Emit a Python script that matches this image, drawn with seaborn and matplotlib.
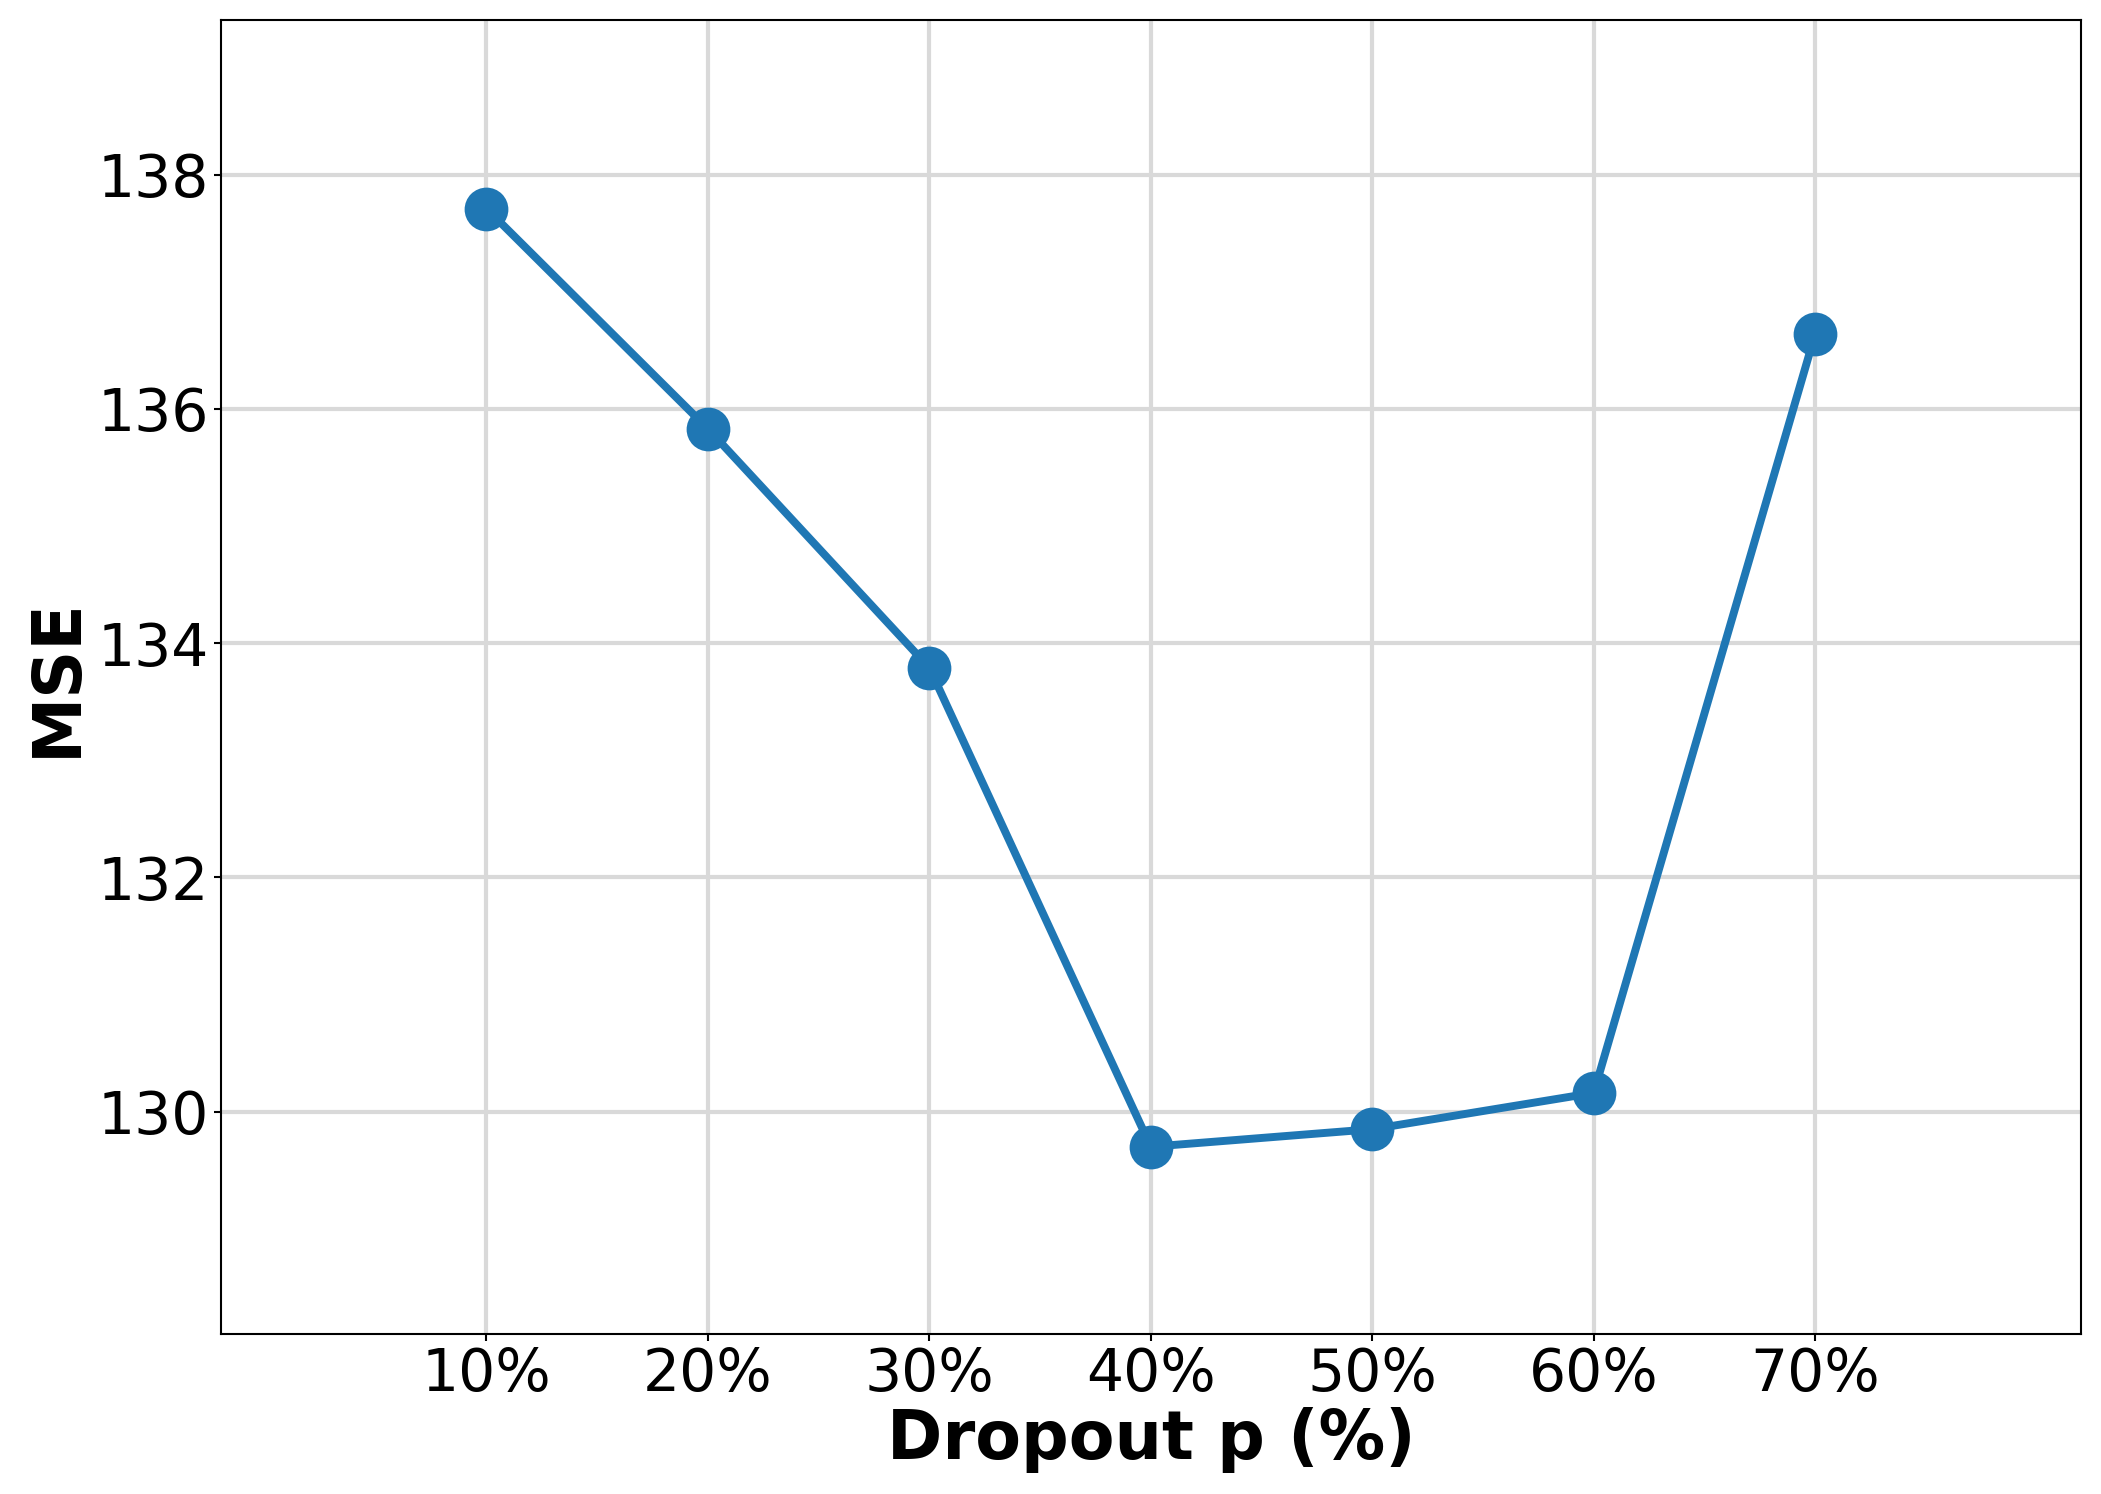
import pandas as pd
import matplotlib.pyplot as plt
import seaborn as sns

# values
dropout = ["10%", "20%", "30%", "40%", "50%", "60%", "70%"]
mse = [137.71, 135.83, 133.79, 129.70, 129.85, 130.16, 136.64]

df = pd.DataFrame({"dropout": dropout, "mse": mse, "pos": range(len(dropout))})

sns.set_style("whitegrid")
plt.rcParams['font.family'] = ['DejaVu Sans']
plt.rcParams['text.color'] = 'black'
plt.rcParams['axes.labelcolor'] = 'black'
plt.rcParams['xtick.color'] = 'black'
plt.rcParams['ytick.color'] = 'black'

fig = plt.figure(figsize=(14.013, 9.96), dpi=150)
ax = fig.add_axes([0.105, 0.107, 0.885, 0.8796])

sns.lineplot(data=df, x="pos", y="mse", marker="o", markersize=21,
             linewidth=3.8, color="#1f77b4", markeredgewidth=0, ax=ax)

ax.set_xlim(-1.2, 7.2)
ax.set_ylim(128.1, 139.32)
ax.set_xticks(df["pos"])
ax.set_xticklabels(dropout)
ax.set_yticks([130, 132, 134, 136, 138])
ax.tick_params(axis="both", labelsize=28, length=3.5, width=1, color="black",
               labelcolor="black", bottom=True, left=True, pad=2)
ax.set_xlabel("Dropout p (%)", fontsize=32, fontweight="bold", color="black",
              labelpad=2)
ax.set_ylabel("MSE", fontsize=32, fontweight="bold", color="black")

ax.grid(True, color="#d9d9d9", linewidth=2)
for s in ax.spines.values():
    s.set_color("black")
    s.set_linewidth(1)

fig.savefig("out.png", dpi=150)
